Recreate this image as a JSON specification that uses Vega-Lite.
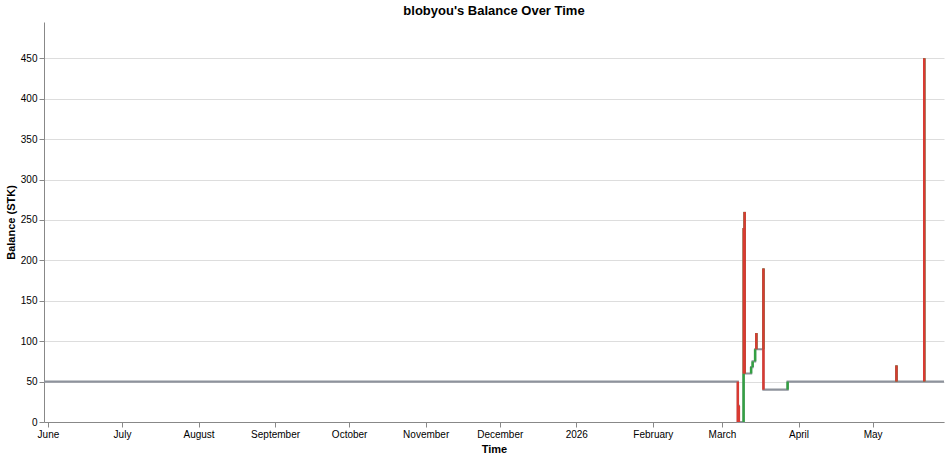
{
  "$schema": "https://vega.github.io/schema/vega-lite/v6.json",
  "autosize": {"type": "fit", "contains": "padding"},
  "padding": {"left": 5, "top": 5, "bottom": 5, "right": 2},
  "width": 951,
  "height": 459,
  "title": {"text": "blobyou's Balance Over Time", "fontSize": 13, "fontWeight": "bold"},
  "data": {
    "values": [
      {"time": "2025-05-30T10:00:00", "balance": 50},
      {"time": "2026-03-07T10:00:00", "balance": 0},
      {"time": "2026-03-07T14:00:00", "balance": 20},
      {"time": "2026-03-07T20:00:00", "balance": 0},
      {"time": "2026-03-09T18:00:00", "balance": 60},
      {"time": "2026-03-09T20:00:00", "balance": 240},
      {"time": "2026-03-09T20:00:01", "balance": 60},
      {"time": "2026-03-10T04:00:00", "balance": 260},
      {"time": "2026-03-10T04:00:01", "balance": 60},
      {"time": "2026-03-12T19:00:00", "balance": 68},
      {"time": "2026-03-13T10:00:00", "balance": 75},
      {"time": "2026-03-14T10:00:00", "balance": 90},
      {"time": "2026-03-14T22:00:00", "balance": 110},
      {"time": "2026-03-14T22:00:01", "balance": 90},
      {"time": "2026-03-17T19:00:00", "balance": 190},
      {"time": "2026-03-17T19:00:01", "balance": 40},
      {"time": "2026-03-27T14:00:00", "balance": 50},
      {"time": "2026-05-10T16:00:00", "balance": 70},
      {"time": "2026-05-10T16:00:01", "balance": 50},
      {"time": "2026-05-21T22:00:00", "balance": 450},
      {"time": "2026-05-21T22:00:01", "balance": 50},
      {"time": "2026-05-29T22:00:00", "balance": 50}
    ]
  },
  "transform": [
    {"window": [{"op": "lag", "field": "balance", "as": "prev"}], "sort": [{"field": "time"}]}
  ],
  "encoding": {
    "x": {
      "field": "time",
      "type": "temporal",
      "title": "Time",
      "axis": {"tickCount": {"interval": "month", "step": 1}, "grid": false}
    }
  },
  "layer": [
    {
      "mark": {"type": "line", "interpolate": "step-after", "color": "#8e939c", "strokeWidth": 2.2},
      "encoding": {
        "y": {
          "field": "balance",
          "type": "quantitative",
          "title": "Balance (STK)",
          "scale": {"domain": [0, 495], "nice": false},
          "axis": {"values": [0, 50, 100, 150, 200, 250, 300, 350, 400, 450]}
        }
      }
    },
    {
      "transform": [{"filter": "datum.prev != null && datum.balance > datum.prev"}],
      "mark": {"type": "rule", "color": "#34a043", "strokeWidth": 2.5},
      "encoding": {
        "y": {"field": "prev", "type": "quantitative"},
        "y2": {"field": "balance"}
      }
    },
    {
      "transform": [{"filter": "datum.prev != null && datum.balance < datum.prev"}],
      "mark": {"type": "rule", "color": "#d93a32", "strokeWidth": 2.5},
      "encoding": {
        "y": {"field": "prev", "type": "quantitative"},
        "y2": {"field": "balance"}
      }
    }
  ],
  "config": {"view": {"stroke": null}}
}
